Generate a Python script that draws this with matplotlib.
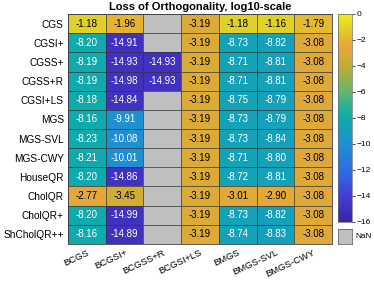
import numpy as np
import matplotlib.pyplot as plt
from matplotlib.colors import LinearSegmentedColormap

plt.rcParams['font.family'] = ['Liberation Sans', 'DejaVu Sans']

# data
rows = ['CGS', 'CGSI+', 'CGSS+', 'CGSS+R', 'CGSI+LS', 'MGS', 'MGS-SVL',
        'MGS-CWY', 'HouseQR', 'CholQR', 'CholQR+', 'ShCholQR++']
cols = ['BCGS', 'BCGSI+', 'BCGSS+R', 'BCGSI+LS', 'BMGS', 'BMGS-SVL', 'BMGS-CWY']
nan = np.nan
loss = np.array([
    [-1.18, -1.96, nan, -3.19, -1.18, -1.16, -1.79],
    [-8.20, -14.91, nan, -3.19, -8.73, -8.82, -3.08],
    [-8.19, -14.93, -14.93, -3.19, -8.71, -8.81, -3.08],
    [-8.19, -14.98, -14.93, -3.19, -8.71, -8.81, -3.08],
    [-8.18, -14.84, nan, -3.19, -8.75, -8.79, -3.08],
    [-8.16, -9.91, nan, -3.19, -8.73, -8.79, -3.08],
    [-8.23, -10.08, nan, -3.19, -8.73, -8.84, -3.08],
    [-8.21, -10.01, nan, -3.19, -8.71, -8.80, -3.08],
    [-8.20, -14.86, nan, -3.19, -8.72, -8.81, -3.08],
    [-2.77, -3.45, nan, -3.19, -3.01, -2.90, -3.08],
    [-8.20, -14.99, nan, -3.19, -8.73, -8.82, -3.08],
    [-8.16, -14.89, nan, -3.19, -8.74, -8.83, -3.08],
])

# parula-like colour map (anchors)
anchors = [
    (0.000, (58, 36, 160)),
    (0.070, (65, 50, 195)),
    (0.125, (68, 62, 215)),
    (0.250, (45, 110, 230)),
    (0.380, (30, 145, 208)),
    (0.490, (15, 170, 172)),
    (0.560, (40, 176, 150)),
    (0.625, (100, 182, 110)),
    (0.750, (190, 172, 55)),
    (0.800, (220, 170, 55)),
    (0.840, (232, 165, 58)),
    (0.880, (230, 180, 48)),
    (0.930, (225, 208, 40)),
    (1.000, (240, 235, 30)),
]
parula = LinearSegmentedColormap.from_list(
    'parula', [(t, tuple(c / 255 for c in rgb)) for t, rgb in anchors], N=256)
parula.set_bad((0.75, 0.75, 0.75))

fig = plt.figure(figsize=(3.74, 2.83), dpi=100)
ax = fig.add_axes([68/374, 1 - 244/283, 264/374, 230/283])
data = np.ma.masked_invalid(loss)
mesh = ax.pcolormesh(data, cmap=parula, vmin=-16, vmax=0,
                     edgecolors=(0.2, 0.2, 0.2, 0.7), linewidth=0.5)
ax.set_xlim(0, len(cols))
ax.set_ylim(len(rows), 0)
ax.set_xticks(np.arange(len(cols)) + 0.5)
ax.set_xticklabels(cols, rotation=25, ha='right', rotation_mode='anchor', fontsize=6.8)
ax.set_yticks(np.arange(len(rows)) + 0.5)
ax.set_yticklabels(rows, fontsize=7.3)
ax.tick_params(length=0, pad=3)
for s in ax.spines.values():
    s.set_color((0.25, 0.25, 0.25))
    s.set_linewidth(0.6)
ax.set_title('Loss of Orthogonality, log10-scale', fontsize=8, fontweight='bold', pad=3)

for i in range(len(rows)):
    for j in range(len(cols)):
        v = loss[i, j]
        if np.isnan(v):
            continue
        r, g, b, _ = parula((v + 16) / 16)
        lum = 0.299 * r + 0.587 * g + 0.114 * b
        ax.text(j + 0.5, i + 0.5, '%.2f' % v, ha='center', va='center', fontsize=7,
                color='black' if lum > 0.62 else 'white')

cax = fig.add_axes([338/374, 1 - 222/283, 14/374, 208/283])
cb = fig.colorbar(mesh, cax=cax, ticks=np.arange(-16, 1, 2))
cb.ax.tick_params(labelsize=6, length=2, width=0.5, direction='out', pad=1.5)
cb.outline.set_edgecolor((0.4, 0.4, 0.4))
cb.outline.set_linewidth(0.5)

nax = fig.add_axes([338/374, 1 - 244/283, 14/374, 15/283])
nax.set_facecolor((0.75, 0.75, 0.75))
nax.set_xticks([])
nax.set_yticks([])
for s in nax.spines.values():
    s.set_color((0.4, 0.4, 0.4))
    s.set_linewidth(0.6)
nax.text(1.25, 0.5, 'NaN', transform=nax.transAxes, va='center', ha='left', fontsize=6)

fig.savefig('out.png', dpi=100)
